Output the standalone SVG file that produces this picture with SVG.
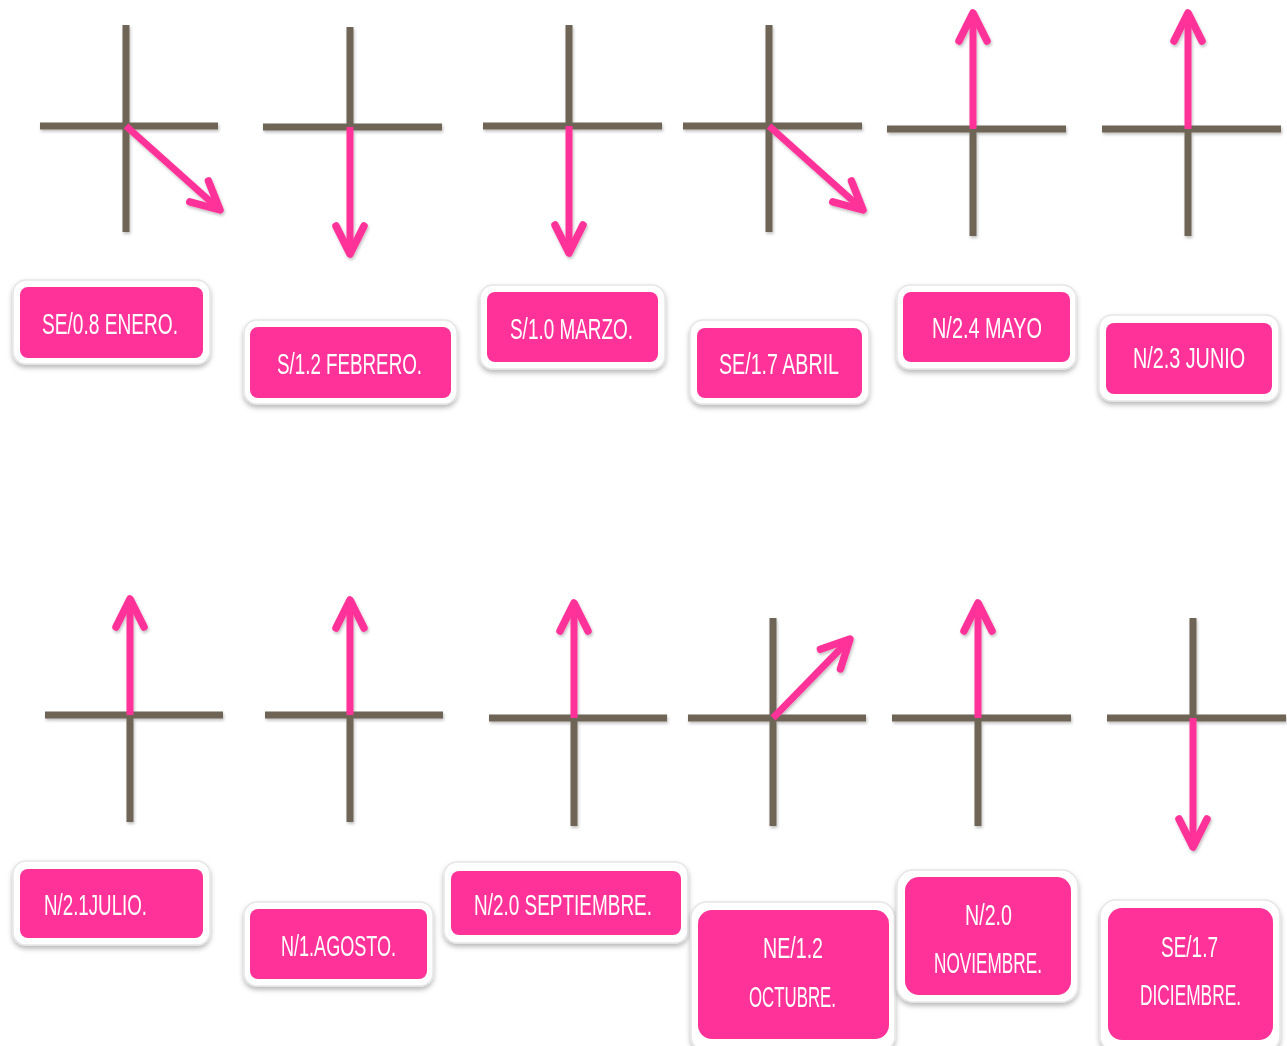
<svg xmlns="http://www.w3.org/2000/svg" width="1287" height="1046" viewBox="0 0 1287 1046">
  <defs>
    <filter id="soft" x="-10%" y="-10%" width="130%" height="130%">
      <feDropShadow dx="1" dy="2" stdDeviation="1.5" flood-color="#000" flood-opacity="0.25"/>
    </filter>
    <filter id="boxShadow" x="-10%" y="-10%" width="120%" height="130%">
      <feDropShadow dx="0" dy="3" stdDeviation="2.5" flood-color="#000" flood-opacity="0.28"/>
    </filter>
    <marker id="head" markerUnits="userSpaceOnUse" orient="auto" refX="0" refY="0" markerWidth="50" markerHeight="50" viewBox="-40 -25 50 50" overflow="visible">
      <path d="M-28,-14 L0,0 L-28,14" fill="none" stroke="#FF3399" stroke-width="7.5" stroke-linecap="round" stroke-linejoin="round"/>
    </marker>
  </defs>
  <style>
    .axis { stroke: #6E6557; stroke-width: 7; fill: none; }
    .vec { stroke: #FF3399; stroke-width: 7; fill: none; stroke-linecap: butt; marker-end: url(#head); }
    .outer { fill: #FFFFFF; stroke: #E6E6E6; stroke-width: 1.5; }
    .inner { fill: #FF3399; }
    .lbl { fill: #FFFFFF; font-family: "Liberation Sans", Arial, sans-serif; font-size: 30px; text-anchor: middle; }
  </style>

  <rect width="1287" height="1046" fill="#FFFFFF"/>

  <!-- wind vectors: axis crosses with a pink arrow each -->
  <g id="connectors" filter="url(#soft)">
    <!-- enero -->
    <path class="axis" d="M126,25 V232 M40,126 H218"/>
    <path class="vec" d="M126,126 L220,210"/>
    <!-- febrero -->
    <path class="axis" d="M350,27 V127 M263,127 H442"/>
    <path class="vec" d="M350,127 V254"/>
    <!-- marzo -->
    <path class="axis" d="M569,25 V126 M483,126 H662"/>
    <path class="vec" d="M569,126 V253"/>
    <!-- abril -->
    <path class="axis" d="M769,25 V232 M683,126 H862"/>
    <path class="vec" d="M769,126 L863,210"/>
    <!-- mayo -->
    <path class="axis" d="M973,129 V236 M887,129 H1066"/>
    <path class="vec" d="M973,129 V13"/>
    <!-- junio -->
    <path class="axis" d="M1188,129 V236 M1102,129 H1281"/>
    <path class="vec" d="M1188,129 V13"/>
    <!-- julio -->
    <path class="axis" d="M130,715 V822 M45,715 H223"/>
    <path class="vec" d="M130,715 V599"/>
    <!-- agosto -->
    <path class="axis" d="M350,715 V822 M265,715 H443"/>
    <path class="vec" d="M350,715 V600"/>
    <!-- septiembre -->
    <path class="axis" d="M574,718 V826 M489,718 H667"/>
    <path class="vec" d="M574,718 V603"/>
    <!-- octubre -->
    <path class="axis" d="M773,618 V826 M688,718 H866"/>
    <path class="vec" d="M773,718 L850,639"/>
    <!-- noviembre -->
    <path class="axis" d="M978,718 V826 M892,718 H1071"/>
    <path class="vec" d="M978,718 V603"/>
    <!-- diciembre -->
    <path class="axis" d="M1193,618 V718 M1107,718 H1286"/>
    <path class="vec" d="M1193,718 V847"/>
  </g>

  <!-- month labels; text is drawn narrow with a horizontal scale of 0.6 -->
  <g id="enero" filter="url(#boxShadow)">
    <rect class="outer" x="13" y="280" width="197" height="84" rx="13"/>
    <rect class="inner" x="20" y="287" width="183" height="71" rx="8"/>
    <text class="lbl" transform="translate(110 334) scale(0.6 1)" textLength="226.7" lengthAdjust="spacingAndGlyphs">SE/0.8  ENERO.</text>
  </g>
  <g id="febrero" filter="url(#boxShadow)">
    <rect class="outer" x="244" y="320" width="213" height="84" rx="13"/>
    <rect class="inner" x="250" y="327" width="201" height="71" rx="8"/>
    <text class="lbl" transform="translate(349.5 374) scale(0.6 1)" textLength="241.7" lengthAdjust="spacingAndGlyphs">S/1.2 FEBRERO.</text>
  </g>
  <g id="marzo" filter="url(#boxShadow)">
    <rect class="outer" x="480" y="285" width="185" height="84" rx="13"/>
    <rect class="inner" x="487" y="292" width="171" height="70" rx="8"/>
    <text class="lbl" transform="translate(571.5 339) scale(0.6 1)" textLength="205" lengthAdjust="spacingAndGlyphs">S/1.0 MARZO.</text>
  </g>
  <g id="abril" filter="url(#boxShadow)">
    <rect class="outer" x="690" y="320" width="179" height="84" rx="13"/>
    <rect class="inner" x="697" y="328" width="165" height="70" rx="8"/>
    <text class="lbl" transform="translate(779 374) scale(0.6 1)" textLength="200" lengthAdjust="spacingAndGlyphs">SE/1.7 ABRIL</text>
  </g>
  <g id="mayo" filter="url(#boxShadow)">
    <rect class="outer" x="897" y="285" width="179" height="84" rx="13"/>
    <rect class="inner" x="903" y="292" width="167" height="70" rx="8"/>
    <text class="lbl" transform="translate(987 338) scale(0.6 1)" textLength="183.3" lengthAdjust="spacingAndGlyphs">N/2.4  MAYO</text>
  </g>
  <g id="junio" filter="url(#boxShadow)">
    <rect class="outer" x="1099" y="315" width="180" height="86" rx="13"/>
    <rect class="inner" x="1106" y="323" width="166" height="71" rx="8"/>
    <text class="lbl" transform="translate(1189 368) scale(0.6 1)" textLength="186.7" lengthAdjust="spacingAndGlyphs">N/2.3 JUNIO</text>
  </g>
  <g id="julio" filter="url(#boxShadow)">
    <rect class="outer" x="13" y="861" width="197" height="84" rx="13"/>
    <rect class="inner" x="20" y="869" width="183" height="69" rx="8"/>
    <text class="lbl" transform="translate(95.5 915) scale(0.6 1)" textLength="171.7" lengthAdjust="spacingAndGlyphs">N/2.1JULIO.</text>
  </g>
  <g id="agosto" filter="url(#boxShadow)">
    <rect class="outer" x="244" y="902" width="189" height="84" rx="13"/>
    <rect class="inner" x="250" y="909" width="177" height="70" rx="8"/>
    <text class="lbl" transform="translate(338.5 956) scale(0.6 1)" textLength="191.7" lengthAdjust="spacingAndGlyphs">N/1.AGOSTO.</text>
  </g>
  <g id="septiembre" filter="url(#boxShadow)">
    <rect class="outer" x="444" y="862" width="244" height="81" rx="13"/>
    <rect class="inner" x="451" y="871" width="230" height="64" rx="8"/>
    <text class="lbl" transform="translate(563 915) scale(0.6 1)" textLength="296.7" lengthAdjust="spacingAndGlyphs">N/2.0 SEPTIEMBRE.</text>
  </g>
  <g id="octubre" filter="url(#boxShadow)">
    <rect class="outer" x="691" y="902" width="204" height="150" rx="16"/>
    <rect class="inner" x="698" y="910" width="191" height="129" rx="14"/>
    <text class="lbl" transform="translate(793 958) scale(0.6 1)" textLength="100" lengthAdjust="spacingAndGlyphs">NE/1.2</text>
    <text class="lbl" transform="translate(792.5 1007) scale(0.6 1)" textLength="145" lengthAdjust="spacingAndGlyphs">OCTUBRE.</text>
  </g>
  <g id="noviembre" filter="url(#boxShadow)">
    <rect class="outer" x="897" y="870" width="181" height="132" rx="16"/>
    <rect class="inner" x="905" y="877" width="166" height="118" rx="14"/>
    <text class="lbl" transform="translate(988.5 925) scale(0.6 1)" textLength="78.3" lengthAdjust="spacingAndGlyphs">N/2.0</text>
    <text class="lbl" transform="translate(988 973) scale(0.6 1)" textLength="180" lengthAdjust="spacingAndGlyphs">NOVIEMBRE.</text>
  </g>
  <g id="diciembre" filter="url(#boxShadow)">
    <rect class="outer" x="1100" y="900" width="180" height="152" rx="16"/>
    <rect class="inner" x="1108" y="908" width="165" height="132" rx="14"/>
    <text class="lbl" transform="translate(1189.5 957) scale(0.6 1)" textLength="95" lengthAdjust="spacingAndGlyphs">SE/1.7</text>
    <text class="lbl" transform="translate(1190.5 1005) scale(0.6 1)" textLength="168.3" lengthAdjust="spacingAndGlyphs">DICIEMBRE.</text>
  </g>
</svg>
